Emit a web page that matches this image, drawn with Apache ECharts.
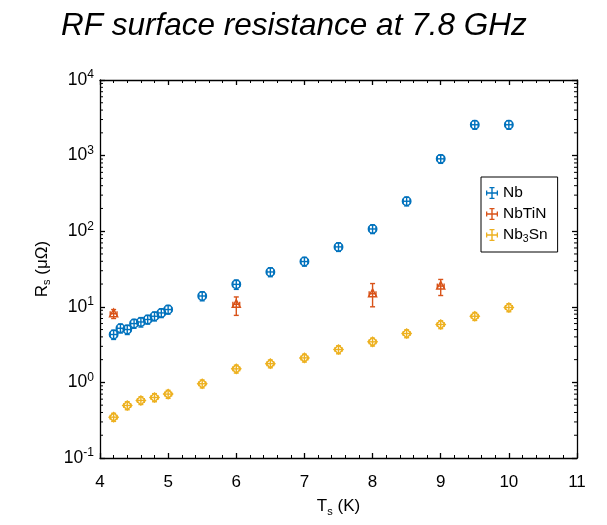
<!DOCTYPE html>
<html>
<head>
<meta charset="utf-8">
<script src="https://cdn.jsdelivr.net/npm/echarts@6/dist/echarts.min.js"></script>
<style>
  html, body { margin: 0; padding: 0; background: #fff; }
  #chart { width: 607px; height: 525px; }
</style>
</head>
<body>
<div id="chart"></div>
<script>
// temperature (K), Rs (uOhm), lower / upper end of the error bar
var nbT    = [4.2, 4.3, 4.4, 4.5, 4.6, 4.7, 4.8, 4.9, 5.0, 5.5, 6.0, 6.5, 7.0, 7.5, 8.0, 8.5, 9.0, 9.5, 10.0];
var nbRs   = [4.3, 5.2, 5.0, 6.0, 6.3, 6.8, 7.5, 8.3, 9.2, 13.9, 19.8, 28.9, 39.7, 62, 107, 249, 906, 2560, 2560];
var nbLo   = [3.7, 4.5, 4.3, 5.2, 5.4, 5.9, 6.5, 7.2, 8.0, 12.0, 17.0, 25.0, 34.5, 54, 93, 216, 790, 2230, 2230];
var nbHi   = [4.9, 5.9, 5.7, 6.8, 7.2, 7.7, 8.5, 9.4, 10.4, 15.8, 22.6, 32.8, 45.0, 70, 121, 282, 1020, 2900, 2900];

var tinT   = [4.2, 6.0, 8.0, 9.0];
var tinRs  = [8.1, 10.8, 14.9, 18.8];
var tinLo  = [7.0, 7.7, 10.0, 14.1];
var tinHi  = [9.2, 13.5, 20.3, 23.0];

var snT    = [4.2, 4.4, 4.6, 4.8, 5.0, 5.5, 6.0, 6.5, 7.0, 7.5, 8.0, 8.5, 9.0, 9.5, 10.0];
var snRs   = [0.347, 0.495, 0.577, 0.632, 0.70, 0.96, 1.51, 1.77, 2.11, 2.72, 3.44, 4.43, 5.84, 7.5, 9.8];
var snLo   = [0.305, 0.435, 0.51, 0.555, 0.615, 0.845, 1.33, 1.56, 1.86, 2.39, 3.03, 3.9, 5.14, 6.6, 8.6];
var snHi   = [0.39, 0.555, 0.645, 0.71, 0.785, 1.075, 1.69, 1.98, 2.36, 3.05, 3.85, 4.96, 6.54, 8.4, 11.0];

var tempErr = 0.05; // horizontal error bar half width (K)

// log minor tick values 2..9 x 10^n
var minorVals = [];
for (var d = -1; d < 4; d++) {
    for (var m = 2; m < 10; m++) minorVals.push(m * Math.pow(10, d));
}

function rows(t, r, lo, hi) {
    var out = [];
    for (var i = 0; i < t.length; i++) out.push([t[i], r[i], lo[i], hi[i]]);
    return out;
}

function errRender(marker, color) {
    return function (params, api) {
        var x = api.value(0), y = api.value(1);
        var p = api.coord([x, y]);
        var pLo = api.coord([x, api.value(2)]);
        var pHi = api.coord([x, api.value(3)]);
        var pL = api.coord([x - tempErr, y]);
        var pR = api.coord([x + tempErr, y]);
        var cap = 2.5;
        var st = { stroke: color, lineWidth: 1.4, fill: null };
        var kids = [
            { type: 'line', shape: { x1: p[0], y1: pLo[1], x2: p[0], y2: pHi[1] }, style: st },
            { type: 'line', shape: { x1: p[0] - cap, y1: pLo[1], x2: p[0] + cap, y2: pLo[1] }, style: st },
            { type: 'line', shape: { x1: p[0] - cap, y1: pHi[1], x2: p[0] + cap, y2: pHi[1] }, style: st },
            { type: 'line', shape: { x1: pL[0], y1: p[1], x2: pR[0], y2: p[1] }, style: st },
            { type: 'line', shape: { x1: pL[0], y1: p[1] - cap, x2: pL[0], y2: p[1] + cap }, style: st },
            { type: 'line', shape: { x1: pR[0], y1: p[1] - cap, x2: pR[0], y2: p[1] + cap }, style: st }
        ];
        var ms = { stroke: color, lineWidth: 1.5, fill: 'rgba(255,255,255,0)' };
        if (marker === 'circle') {
            kids.push({ type: 'circle', shape: { cx: p[0], cy: p[1], r: 4.2 }, style: ms });
        } else if (marker === 'triangle') {
            kids.push({ type: 'polygon', shape: { points: [[p[0], p[1] - 4.5], [p[0] + 4, p[1] + 3], [p[0] - 4, p[1] + 3]] }, style: ms });
        } else {
            kids.push({ type: 'polygon', shape: { points: [[p[0], p[1] - 4.5], [p[0] + 4.5, p[1]], [p[0], p[1] + 4.5], [p[0] - 4.5, p[1]]] }, style: ms });
        }
        return { type: 'group', children: kids };
    };
}

function minorRender(params, api) {
    var rect = params.coordSys;
    var p = api.coord([4, api.value(0)]);
    var st = { stroke: '#000', lineWidth: 1 };
    return {
        type: 'group',
        children: [
            { type: 'line', shape: { x1: rect.x, y1: p[1], x2: rect.x + 3, y2: p[1] }, style: st },
            { type: 'line', shape: { x1: rect.x + rect.width - 3, y1: p[1], x2: rect.x + rect.width, y2: p[1] }, style: st }
        ]
    };
}

var iconPlus = 'path://M5.3,0h1.4v12h-1.4z M0,5.3h12v1.4h-12z M3.5,0h5v1.3h-5z M3.5,10.7h5v1.3h-5z M0,3.5h1.3v5h-1.3z M10.7,3.5h1.3v5h-1.3z';

var colNb = '#0072BD', colTin = '#D95319', colSn = '#EDB120';
var font = 'Liberation Sans, Arial, sans-serif';

var xAxisBase = {
    type: 'value', min: 4, max: 11, interval: 1,
    axisLine: { show: true, onZero: false, lineStyle: { color: '#000', width: 1.3 } },
    axisTick: { show: true, inside: true, length: 5, lineStyle: { color: '#000', width: 1.3 } },
    minorTick: { show: true, splitNumber: 5, length: 3, lineStyle: { color: '#000', width: 1 } },
    splitLine: { show: false },
    minorSplitLine: { show: false }
};
var yAxisBase = {
    type: 'log', logBase: 10, min: 0.1, max: 10000, splitNumber: 5,
    axisLine: { show: true, onZero: false, lineStyle: { color: '#000', width: 1.3 } },
    axisTick: { show: true, inside: true, length: 5, lineStyle: { color: '#000', width: 1.3 } },
    minorTick: { show: false },
    splitLine: { show: false }
};

var chart = echarts.init(document.getElementById('chart'));
var option = {
    animation: false,
    title: {
        text: 'RF surface resistance at 7.8 GHz',
        left: 56, top: 5,
        textStyle: { fontFamily: font, fontSize: 31.5, fontStyle: 'italic', fontWeight: 'normal', color: '#000' }
    },
    grid: { left: 100, right: 30, top: 80, bottom: 67 },
    legend: {
        orient: 'vertical', left: 481, top: 177,
        padding: [8, 10, 7, 5], itemGap: 5, itemWidth: 12, itemHeight: 12,
        borderColor: '#000', borderWidth: 1, backgroundColor: '#fff',
        textStyle: {
            fontFamily: font, fontSize: 15.5, color: '#000',
            rich: { n: { fontFamily: font, fontSize: 15.5 }, sub: { fontFamily: font, fontSize: 10.5, padding: [9, 0, 0, 0] } }
        },
        formatter: function (name) {
            return name === 'Nb3Sn' ? '{n|Nb}{sub|3}{n|Sn}' : name;
        },
        data: [
            { name: 'Nb', icon: iconPlus, itemStyle: { color: colNb } },
            { name: 'NbTiN', icon: iconPlus, itemStyle: { color: colTin } },
            { name: 'Nb3Sn', icon: iconPlus, itemStyle: { color: colSn } }
        ]
    },
    xAxis: [
        Object.assign({}, xAxisBase, {
            position: 'bottom',
            name: '{n|T}{sub|s}{n| (K)}', nameLocation: 'middle', nameGap: 38,
            nameTextStyle: {
                rich: { n: { fontFamily: font, fontSize: 17, color: '#000' }, sub: { fontFamily: font, fontSize: 11, color: '#000', padding: [10, 0, 0, 0] } }
            },
            axisLabel: { margin: 16, fontFamily: font, fontSize: 17, color: '#000' }
        }),
        Object.assign({}, xAxisBase, { position: 'top', axisLabel: { show: false } })
    ],
    yAxis: [
        Object.assign({}, yAxisBase, {
            position: 'left',
            name: '{n|R}{sub|s}{n| (μΩ)}', nameLocation: 'middle', nameGap: 44, nameRotate: 90,
            nameTextStyle: {
                rich: { n: { fontFamily: font, fontSize: 17, color: '#000' }, sub: { fontFamily: font, fontSize: 11, color: '#000', padding: [10, 0, 0, 0] } }
            },
            axisLabel: {
                margin: 6, color: '#000',
                formatter: function (v) { return '{b|10}{s|' + Math.round(Math.log10(v)) + '}'; },
                rich: {
                    b: { fontFamily: font, fontSize: 17.5, color: '#000' },
                    s: { fontFamily: font, fontSize: 12, color: '#000', padding: [0, 0, 10, 0] }
                }
            }
        }),
        Object.assign({}, yAxisBase, { position: 'right', axisLabel: { show: false } })
    ],
    series: [
        {
            name: 'minor', type: 'custom', silent: true, clip: false,
            data: minorVals.map(function (v) { return [v]; }),
            encode: { y: 0 },
            renderItem: minorRender
        },
        { name: 'Nb', type: 'custom', data: rows(nbT, nbRs, nbLo, nbHi), renderItem: errRender('circle', colNb), itemStyle: { color: colNb }, encode: { x: 0, y: [1, 2, 3] } },
        { name: 'NbTiN', type: 'custom', data: rows(tinT, tinRs, tinLo, tinHi), renderItem: errRender('triangle', colTin), itemStyle: { color: colTin }, encode: { x: 0, y: [1, 2, 3] } },
        { name: 'Nb3Sn', type: 'custom', data: rows(snT, snRs, snLo, snHi), renderItem: errRender('diamond', colSn), itemStyle: { color: colSn }, encode: { x: 0, y: [1, 2, 3] } }
    ]
};
chart.setOption(option);
</script>
</body>
</html>
